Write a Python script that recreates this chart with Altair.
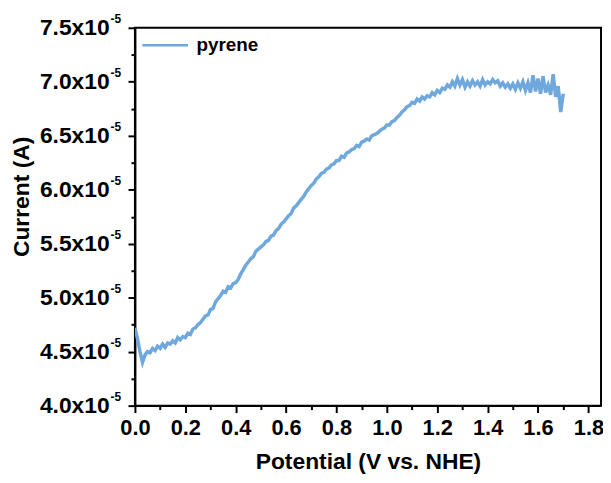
import altair as alt
import pandas as pd

potential_V = [round(i * 0.01, 2) for i in range(171)]
current_e5 = [
    4.72, 4.62, 4.50, 4.40, 4.47, 4.50, 4.49, 4.53, 4.51, 4.55,
    4.53, 4.57, 4.54, 4.58, 4.57, 4.60, 4.58, 4.63, 4.61, 4.64,
    4.63, 4.67, 4.66, 4.71, 4.72, 4.75, 4.77, 4.80, 4.83, 4.84,
    4.89, 4.90, 4.96, 4.99, 5.02, 5.06, 5.05, 5.10, 5.09, 5.13,
    5.14, 5.17, 5.22, 5.26, 5.30, 5.33, 5.36, 5.38, 5.43, 5.45,
    5.47, 5.49, 5.52, 5.53, 5.57, 5.58, 5.62, 5.64, 5.68, 5.70,
    5.73, 5.76, 5.78, 5.83, 5.85, 5.88, 5.91, 5.94, 5.98, 6.01,
    6.04, 6.06, 6.10, 6.12, 6.15, 6.16, 6.19, 6.20, 6.23, 6.24,
    6.27, 6.27, 6.31, 6.30, 6.34, 6.35, 6.37, 6.38, 6.41, 6.40,
    6.44, 6.45, 6.47, 6.46, 6.50, 6.51, 6.52, 6.54, 6.56, 6.57,
    6.60, 6.60, 6.63, 6.64, 6.67, 6.69, 6.72, 6.74, 6.77, 6.78,
    6.81, 6.80, 6.84, 6.82, 6.86, 6.84, 6.87, 6.86, 6.90, 6.88,
    6.92, 6.90, 6.94, 6.93, 6.97, 6.95, 7.00, 6.96, 7.03, 6.97,
    7.02, 6.95, 7.00, 6.96, 7.01, 6.97, 7.00, 6.96, 7.02, 6.97,
    7.00, 6.98, 7.02, 6.99, 7.01, 6.96, 6.99, 6.95, 6.98, 6.94,
    6.98, 6.93, 6.99, 6.94, 7.00, 6.92, 6.99, 6.90, 7.06, 6.91,
    7.03, 6.89, 7.05, 6.90, 6.97, 6.88, 7.07, 6.86, 6.96, 6.72,
    6.89,
]
series_name = "pyrene"
x_major = [0.0, 0.2, 0.4, 0.6, 0.8, 1.0, 1.2, 1.4, 1.6, 1.8]
x_minor = [0.1, 0.3, 0.5, 0.7, 0.9, 1.1, 1.3, 1.5, 1.7]
y_major = [4.0, 4.5, 5.0, 5.5, 6.0, 6.5, 7.0, 7.5]
y_minor = [4.25, 4.75, 5.25, 5.75, 6.25, 6.75, 7.25]
y_exponent = "-5"

df = pd.DataFrame({"V": potential_V, "I": current_e5, "series": series_name})
exp_df = pd.DataFrame({"I": y_major, "txt": y_exponent})

FONT = "Liberation Sans"
LINE_COLOR = "#6fa8dc"

xscale = alt.Scale(domain=[0, 1.85], nice=False, zero=False)
yscale = alt.Scale(domain=[4.0, 7.5], nice=False, zero=False)

main = alt.Chart(df).mark_line(strokeWidth=3.5, clip=True).encode(
    x=alt.X("V:Q", scale=xscale, axis=alt.Axis(
        orient="bottom", values=x_major, format=".1f", grid=False,
        tickSize=7, tickWidth=2, tickColor="black",
        domainColor="black", domainWidth=2,
        labelFont=FONT, labelFontSize=22, labelFontWeight="bold", labelColor="black",
        labelPadding=5, labelFlush=False,
        title="Potential (V vs. NHE)", titleFont=FONT, titleFontSize=23,
        titleFontWeight="bold", titleColor="black", titlePadding=12)),
    y=alt.Y("I:Q", scale=yscale, axis=alt.Axis(
        orient="left", values=y_major, grid=False,
        labelExpr="format(datum.value, '.1f') + 'x10'",
        tickSize=7, tickWidth=2, tickColor="black",
        domainColor="black", domainWidth=2,
        labelFont=FONT, labelFontSize=23, labelFontWeight="bold", labelColor="black",
        labelPadding=19, labelFlush=False,
        title="Current (A)", titleFont=FONT, titleFontSize=23,
        titleFontWeight="bold", titleColor="black", titleX=-102, titleY=170)),
    color=alt.Color("series:N", scale=alt.Scale(range=[LINE_COLOR]), legend=alt.Legend(
        title=None, orient="none", legendX=6, legendY=-7, padding=0,
        symbolType="stroke", symbolSize=2116, symbolStrokeWidth=2.5,
        labelFont=FONT, labelFontSize=19, labelFontWeight="bold", labelColor="black",
        labelOffset=7)),
)

minor = alt.Chart(df).mark_line(opacity=0).encode(
    x=alt.X("V:Q", scale=xscale, axis=alt.Axis(
        orient="bottom", values=x_minor, labels=False, domain=False, grid=False,
        tickSize=4, tickWidth=2, tickColor="black", title=None)),
    y=alt.Y("I:Q", scale=yscale, axis=alt.Axis(
        orient="left", values=y_minor, labels=False, domain=False, grid=False,
        tickSize=4, tickWidth=2, tickColor="black", title=None)),
)

exponents = alt.Chart(exp_df).mark_text(
    align="right", baseline="middle", dy=-9, font=FONT, fontSize=12,
    fontWeight="bold", color="black",
).encode(
    x=alt.value(-14),
    y=alt.Y("I:Q", scale=yscale, axis=None),
    text="txt:N",
)

chart = alt.layer(main, minor, exponents).resolve_axis(x="independent", y="independent").properties(
    width=470, height=381,
    autosize=alt.AutoSizeParams(type="none"),
    padding={"left": 128, "top": 18, "right": 2, "bottom": 68},
).configure_view(stroke="black", strokeWidth=2)

chart.save("out.html", embed_options={"renderer": "svg", "actions": False})
